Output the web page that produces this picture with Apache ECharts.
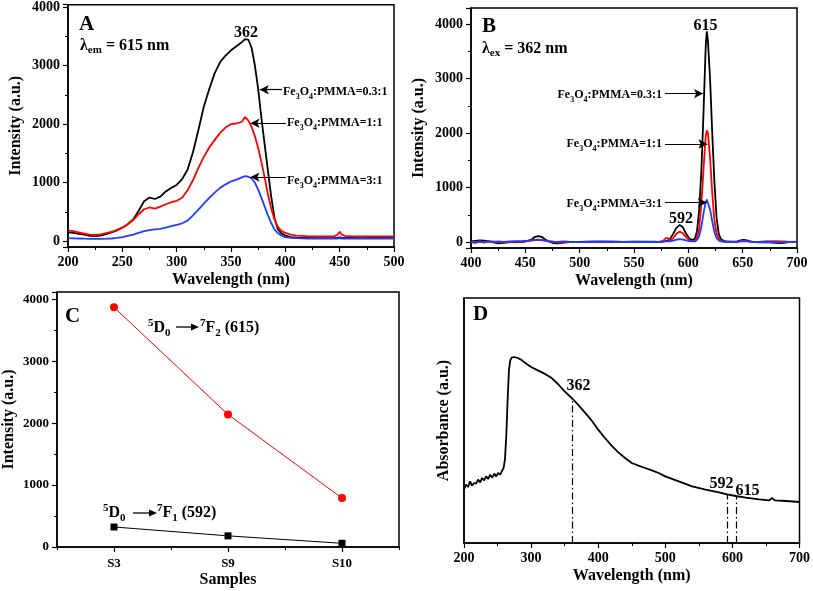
<!DOCTYPE html>
<html><head><meta charset="utf-8">
<script src="https://cdn.jsdelivr.net/npm/echarts@6/dist/echarts.min.js"></script>
<style>html,body{margin:0;padding:0;background:#fff}#c{width:813px;height:591px}</style>
</head><body><div id="c"></div>
<script>
// ---------- Panel A: excitation spectra (λem = 615 nm) ----------
const aWavelength = [200,205,210,215,220,225,230,235,240,245,250,255,260,265,270,275,280,285,290,295,300,305,310,315,320,325,330,335,340,345,350,355,360,363,366,369,372,375,378,381,384,387,390,393,396,400,405,410,420,430,440,445,448,450,452,455,460,470,480,490,500];
const aRatio03 = [150,140,125,110,90,85,95,120,150,185,230,290,370,520,680,745,720,760,850,910,960,1060,1220,1520,1900,2300,2600,2870,3060,3170,3260,3330,3400,3450,3440,3300,3000,2600,2100,1650,1200,760,400,210,140,95,70,60,55,50,50,55,60,65,55,55,55,50,55,55,60];
const aRatio1  = [180,170,150,130,110,105,115,135,160,190,230,290,360,460,545,575,555,590,630,665,690,740,870,1040,1250,1440,1600,1730,1850,1940,2000,2010,2040,2120,2060,1950,1790,1590,1350,1080,800,560,370,250,180,140,110,95,85,80,80,85,110,160,110,90,85,80,80,80,80];
const aRatio3  = [50,48,45,42,40,40,40,42,45,55,70,90,110,140,170,190,200,210,230,255,280,305,350,440,540,640,740,830,910,970,1020,1050,1090,1110,1100,1070,1000,880,740,590,440,310,200,140,100,70,55,50,45,45,45,45,45,50,45,45,45,45,45,45,45];

// ---------- Panel B: emission spectra (λex = 362 nm) ----------
const bWavelength = [400,404,408,412,416,420,425,430,436,442,448,452,456,459,462,465,468,472,476,480,485,490,500,510,520,530,540,550,560,570,574,577,579,580,581,583,586,589,592,595,598,601,604,606,608,610,612,614,616,617,618,620,622,624,626,628,630,634,640,645,648,651,654,658,665,672,680,686,692,700];
const bRatio03 = [10,20,30,25,15,0,-25,-15,0,0,5,15,50,95,110,95,50,5,-20,-25,-10,0,0,5,0,5,0,0,5,0,5,10,15,20,25,50,150,260,315,270,150,60,40,60,200,600,1300,2400,3600,3870,3700,3000,2000,1100,450,150,50,10,5,10,30,40,30,5,-5,0,-15,-20,0,0];
const bRatio1  = [0,-5,5,0,5,10,0,-5,0,5,10,15,25,35,40,35,20,10,0,-10,-5,0,0,0,5,0,0,5,0,0,5,20,70,100,70,25,70,150,190,160,90,30,15,20,80,250,700,1350,1950,2050,2000,1550,900,400,150,60,20,5,0,5,15,20,15,5,0,10,15,10,5,0];
const bRatio3  = [0,-15,10,-10,15,-5,10,0,10,15,20,25,35,40,45,40,30,15,5,0,10,5,0,5,10,5,0,5,0,5,0,5,10,15,10,10,25,45,55,45,30,15,10,10,40,110,280,530,740,780,760,600,380,180,70,30,10,5,0,5,10,15,10,5,0,5,0,-5,0,5];

// ---------- Panel C: peak intensities ----------
const cSamples = ['S3','S9','S10'];
const c615 = [3870, 2140, 790];
const c592 = [323, 180, 60];

// ---------- Panel D: absorbance ----------
const dWavelength = [200,203,206,209,212,215,218,221,224,227,230,233,236,239,242,245,248,251,254,257,259,261,263,265,267,269,271,273,275,277,280,285,290,295,300,310,320,330,340,350,362,370,380,390,400,410,420,430,440,450,460,470,480,490,500,520,540,560,580,592,605,620,640,655,657,659,661,663,680,700];
const dAbsorbance = [160,175,168,185,172,180,178,190,182,195,188,200,192,205,196,208,200,210,205,218,225,250,320,430,520,548,556,560,558,560,555,550,542,535,528,518,508,496,477,455,432,415,392,368,340,315,292,272,255,240,232,225,218,210,200,185,170,160,152,146,141,136,131,128,130,135,130,128,126,123];
const dMarkers = [362, 592, 605];

const seriesNames = ['Fe3O4:PMMA=0.3:1','Fe3O4:PMMA=1:1','Fe3O4:PMMA=3:1'];
const ratioLabels = ['0.3:1','1:1','3:1'];

// ---------- styling ----------
const F = 'Liberation Serif';
const BLACK = '#000000', RED = '#ff0000', BLUE = '#1f3dff';
const chart = echarts.init(document.getElementById('c'));

function pairs(xs, ys){ return xs.map((x,i)=>[x, ys[i]]); }

function valAxis(grid, min, max, interval, name, nameGap, extra){
  const a = {
    type:'value', gridIndex:grid, min, max, name, nameLocation:'middle', nameGap,
    nameTextStyle:{fontFamily:F,fontWeight:'bold',fontSize:16,color:'#000'},
    axisLine:{show:true,onZero:false,lineStyle:{color:'#000',width:1.5}},
    axisTick:{show:true,inside:false,length:5,lineStyle:{color:'#000',width:1.2}},
    minorTick:{show:true,splitNumber:2,length:3,lineStyle:{color:'#000',width:1}},
    axisLabel:{fontFamily:F,fontWeight:'bold',fontSize:14,color:'#000',margin:8},
    splitLine:{show:false}, minorSplitLine:{show:false}
  };
  if (interval != null) a.interval = interval;
  return Object.assign(a, extra||{});
}

const grids = [
  {left:68, top:4, width:326, height:243},
  {left:471, top:8, width:326, height:240},
  {left:57, top:292, width:342, height:255},
  {left:464, top:298, width:337, height:245}
].map(g=>Object.assign(g,{show:true,borderColor:'#000',borderWidth:1.5,backgroundColor:'transparent'}));

const thousandFmt = v => (Math.abs(v % 1000) < 1e-6 ? String(v) : '');
const yLabel = size => ({fontFamily:F,fontWeight:'bold',fontSize:size,color:'#000',margin:8,formatter:thousandFmt});

const xAxes = [
  valAxis(0, 200, 500, 50, 'Wavelength (nm)', 25),
  valAxis(1, 400, 700, 50, 'Wavelength (nm)', 25),
  {type:'category', gridIndex:2, data:cSamples, boundaryGap:true, name:'Samples', nameLocation:'middle', nameGap:25,
   nameTextStyle:{fontFamily:F,fontWeight:'bold',fontSize:16,color:'#000'},
   axisLine:{show:true,lineStyle:{color:'#000',width:1.5}},
   axisTick:{show:true,length:3,alignWithLabel:false,lineStyle:{color:'#000',width:1}},
   axisLabel:{fontFamily:F,fontWeight:'bold',fontSize:13,color:'#000',margin:10}, splitLine:{show:false}},
  valAxis(3, 200, 700, 100, 'Wavelength (nm)', 25),
  {type:'category', gridIndex:2, data:cSamples, boundaryGap:true, position:'bottom',
   axisLine:{show:false}, axisTick:{show:true,length:5,alignWithLabel:true,lineStyle:{color:'#000',width:1.2}},
   axisLabel:{show:false}, splitLine:{show:false}}
];
const yAxes = [
  valAxis(0, -100, 4040, null, 'Intensity (a.u.)', 44, {splitNumber:4, minInterval:1000, maxInterval:1000, axisLabel:yLabel(14)}),
  valAxis(1, -110, 4300, null, 'Intensity (a.u.)', 44, {splitNumber:4, minInterval:1000, maxInterval:1000, axisLabel:yLabel(14)}),
  valAxis(2, 0, 4118, 1000, 'Intensity (a.u.)', 40, {axisLabel:yLabel(13)}),
  valAxis(3, 0, 735, null, 'Absorbance (a.u.)', 12, {axisTick:{show:false}, minorTick:{show:false}, axisLabel:{show:false}})
];

function line(name, xi, yi, data, color, width, extra){
  return Object.assign({type:'line', name, xAxisIndex:xi, yAxisIndex:yi, data, showSymbol:false, symbol:'none',
    lineStyle:{color, width}, itemStyle:{color}, animation:false, silent:true, z:3}, extra||{});
}

const arrowML = (segs) => ({silent:true, symbol:['none','arrow'], symbolSize:[7,9], animation:false,
  label:{show:false}, lineStyle:{color:'#000',width:1.2,type:'solid'},
  data: segs.map(s=>[{coord:[s[0],s[2]]},{coord:[s[1],s[2]]}])});

// annotation arrow positions [fromX, toX, y] in data units
const aArrows = [[397,376.5,2587],[400.5,368,2014],[400.5,368,1094]];
const bArrows = [[578.5,613.5,2728],[578.5,617.5,1801],[578.5,617,724]];

const dIdx = x => dWavelength.indexOf(x);
const dLines = {silent:true, symbol:['none','none'], animation:false, label:{show:false},
  lineStyle:{color:'#000',width:1.2,type:[7,3,1.5,3]},
  data: dMarkers.map(m=>[{coord:[m,0]},{coord:[m,dAbsorbance[dIdx(m)]]}])};

const series = [
  line(seriesNames[0],0,0,pairs(aWavelength,aRatio03),BLACK,1.8,{markLine:arrowML(aArrows)}),
  line(seriesNames[1],0,0,pairs(aWavelength,aRatio1),RED,1.8),
  line(seriesNames[2],0,0,pairs(aWavelength,aRatio3),BLUE,1.8),
  line(seriesNames[0],1,1,pairs(bWavelength,bRatio03),BLACK,1.8,{markLine:arrowML(bArrows)}),
  line(seriesNames[1],1,1,pairs(bWavelength,bRatio1),RED,1.8),
  line(seriesNames[2],1,1,pairs(bWavelength,bRatio3),BLUE,1.8),
  {type:'line', name:'615', xAxisIndex:2, yAxisIndex:2, data:c615, symbol:'circle', symbolSize:8, showSymbol:true,
   lineStyle:{color:RED,width:1}, itemStyle:{color:RED}, animation:false, silent:true},
  {type:'line', name:'592', xAxisIndex:2, yAxisIndex:2, data:c592, symbol:'rect', symbolSize:7, showSymbol:true,
   lineStyle:{color:BLACK,width:1}, itemStyle:{color:BLACK}, animation:false, silent:true},
  line('Absorbance',3,3,pairs(dWavelength,dAbsorbance),BLACK,1.8,{markLine:dLines})
];

// ---------- text annotations ----------
function T(x,y,text,size,align,extra){
  return {type:'text', x, y, silent:true, z:10, style:Object.assign({text, fill:'#000',
    fontFamily:F, fontWeight:'bold', fontSize:size, align:align||'left', verticalAlign:'middle'}, extra||{})};
}
function richStyles(base){
  const sub = Math.round(base*0.68);
  return {
    m:{fontFamily:F,fontWeight:'bold',fontSize:base,lineHeight:base+5,fill:'#000',color:'#000'},
    s:{fontFamily:F,fontWeight:'bold',fontSize:sub,lineHeight:sub,verticalAlign:'bottom',fill:'#000',color:'#000'},
    p:{fontFamily:F,fontWeight:'bold',fontSize:sub,lineHeight:sub,verticalAlign:'top',fill:'#000',color:'#000'}
  };
}
function feText(x,y,ratio,align){
  return T(x,y,'{m|Fe}{s|3}{m|O}{s|4}{m|:PMMA='+ratio+'}',12,align,{rich:richStyles(12)});
}
function lambdaText(x,y,sub,val){
  return T(x,y,'{m|λ}{e|'+sub+'}{m| = '+val+' nm}',16,'left',{rich:{
    m:{fontFamily:F,fontWeight:'bold',fontSize:16,lineHeight:20,fill:'#000'},
    e:{fontFamily:F,fontWeight:'bold',fontSize:11,lineHeight:14,verticalAlign:'bottom',fill:'#000'}}});
}
function arrowG(x1,x2,y){
  return [{type:'line',silent:true,z:10,shape:{x1,y1:y,x2:x2-7,y2:y},style:{stroke:'#000',lineWidth:1.3}},
          {type:'polygon',silent:true,z:10,shape:{points:[[x2,y],[x2-8,y-3.5],[x2-8,y+3.5]]},style:{fill:'#000'}}];
}

const graphic = [
  T(79,25,'A',21), lambdaText(80,46,'em','615'), T(246,33,'362',16,'center'),
  feText(283,92,ratioLabels[0]), feText(287,123,ratioLabels[1]), feText(287,181,ratioLabels[2]),
  T(482,27,'B',21), lambdaText(482,49,'ex','362'), T(705.5,26,'615',16,'center'), T(681,219,'592',16,'center'),
  feText(662,95,ratioLabels[0],'right'), feText(662,144,ratioLabels[1],'right'), feText(662,204,ratioLabels[2],'right'),
  T(65,317,'C',21),
  T(148,328,'{p|5}{m|D}{s|0}',16,'left',{rich:richStyles(16)}),
  ...arrowG(176,199,327),
  T(200,328,'{p|7}{m|F}{s|2}{m| (615)}',16,'left',{rich:richStyles(16)}),
  T(103,513,'{p|5}{m|D}{s|0}',16,'left',{rich:richStyles(16)}),
  ...arrowG(133,157,513),
  T(157,513,'{p|7}{m|F}{s|1}{m| (592)}',16,'left',{rich:richStyles(16)}),
  T(473,315,'D',21), T(578.5,386,'362',16,'center'), T(721.5,484,'592',16,'center'), T(747.5,491,'615',16,'center')
];

chart.setOption({animation:false, backgroundColor:'#fff', grid:grids, xAxis:xAxes, yAxis:yAxes, series, graphic});
</script></body></html>
